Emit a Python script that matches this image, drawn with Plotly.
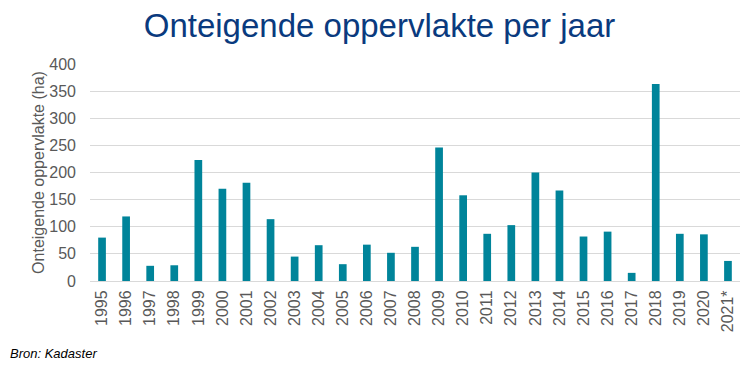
import plotly.graph_objects as go

years = ["1995", "1996", "1997", "1998", "1999", "2000", "2001", "2002", "2003",
         "2004", "2005", "2006", "2007", "2008", "2009", "2010", "2011", "2012",
         "2013", "2014", "2015", "2016", "2017", "2018", "2019", "2020", "2021*"]
area_ha = [80, 119, 28, 29, 223, 170, 181, 114, 45, 66, 31, 67, 52, 63,
           246, 158, 87, 103, 200, 167, 82, 91, 15, 363, 87, 86, 37]
y_ticks = [0, 50, 100, 150, 200, 250, 300, 350, 400]

FONT = "Liberation Sans, Arial, sans-serif"
GRAY = "#595959"

fig = go.Figure(go.Bar(
    x=years, y=area_ha,
    marker=dict(color="#00849A", line=dict(width=0)),
    hoverinfo="x+y",
))

fig.update_layout(
    width=754, height=365,
    margin=dict(l=82, r=22, t=56, b=92, autoexpand=False),
    paper_bgcolor="white", plot_bgcolor="white",
    bargap=0.68,
    showlegend=False,
    title=dict(text="Onteigende oppervlakte per jaar", xref="container",
               x=371.5 / 754, xanchor="center",
               yref="container", y=0.953, yanchor="middle",
               font=dict(family=FONT, size=33, color="#0A3A7E")),
    font=dict(family=FONT, color=GRAY, size=16),
    xaxis=dict(type="category", tickangle=-90, showgrid=False, ticks="",
               automargin=False, ticklabelstandoff=2,
               showline=True, linecolor="#D9D9D9", linewidth=1,
               tickfont=dict(family=FONT, size=16, color=GRAY)),
    yaxis=dict(range=[0, 400], tickvals=y_ticks, showgrid=True,
               automargin=False,
               gridcolor="#D9D9D9", gridwidth=1, zeroline=False, ticks="",
               ticklabelstandoff=13,
               tickfont=dict(family=FONT, size=16, color=GRAY),
               title=dict(text="Onteigende oppervlakte (ha)", standoff=0,
                          font=dict(family=FONT, size=16, color=GRAY))),
    annotations=[dict(text="<i>Bron: Kadaster</i>", xref="paper", yref="paper",
                      x=-82 / 650, y=-0.332, xanchor="left", yanchor="middle",
                      showarrow=False,
                      font=dict(family=FONT, size=13, color="#000000"))],
)

fig.write_html("out.html")
